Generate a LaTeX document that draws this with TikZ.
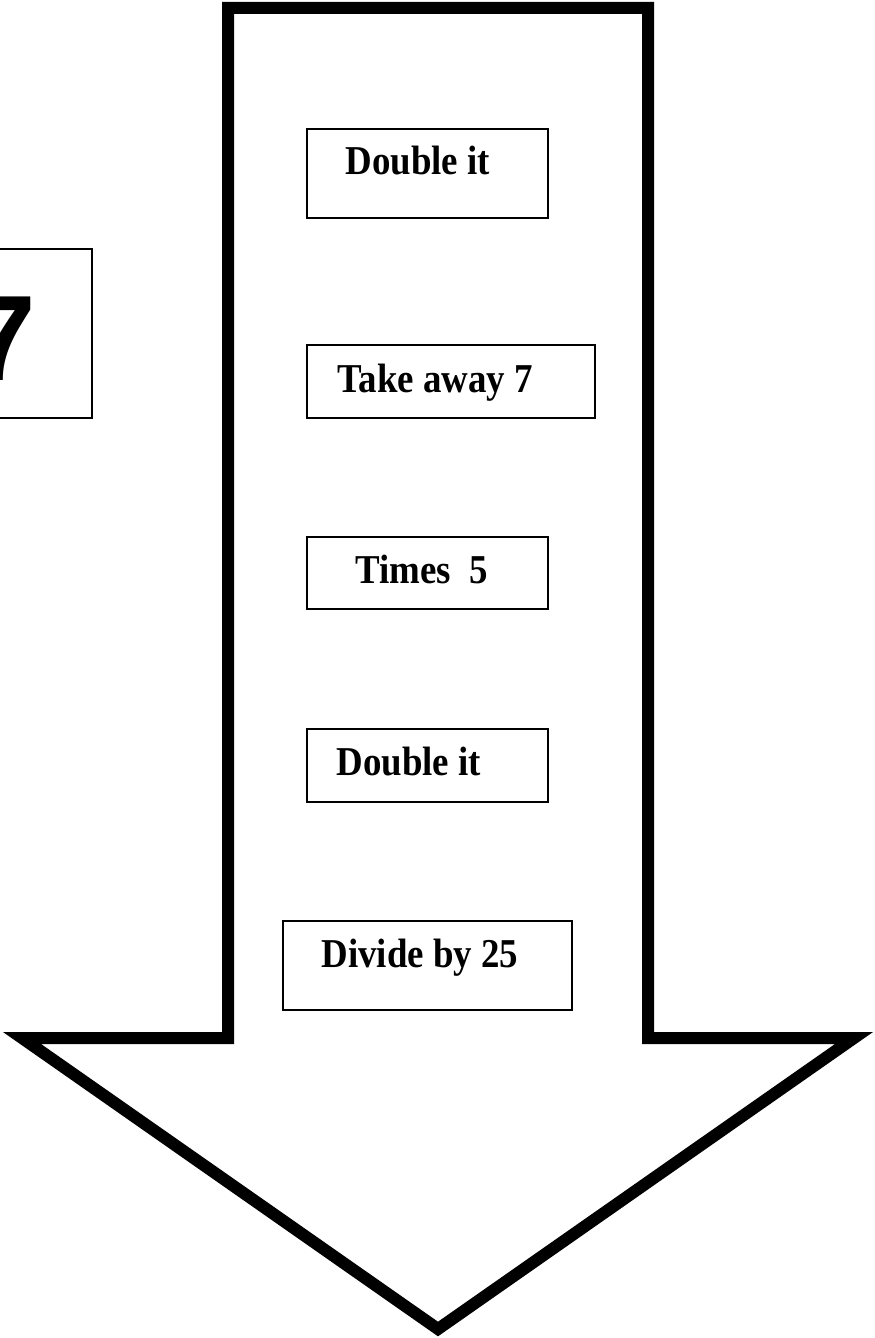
\documentclass[tikz,border=0pt]{standalone}
\usepackage{fontspec}
\setmainfont{Liberation Serif}
\newfontfamily\digitfont{Liberation Sans}
\tikzset{
  arrowline/.style={draw=black, line width=6pt, line join=miter, fill=white},
  stepbox/.style={draw=black, line width=0.8pt, fill=white, rectangle, inner sep=0pt, anchor=north west},
  steptext/.style={anchor=base west, inner sep=0pt, font=\fontsize{20.5pt}{24pt}\selectfont\bfseries},
}
\newcommand\cond[1]{\scalebox{0.9}[1]{#1}}
\begin{document}
\begin{tikzpicture}[x=0.5pt, y=-0.5pt]
\useasboundingbox (0,0) rectangle (874,1338);
% big arrow
\draw[arrowline] (228,1038) -- (228,8) -- (648,8) -- (648,1038) -- (854,1038) -- (438,1329) -- (22,1038) -- cycle;
% start box
\node[stepbox, minimum width=191*0.5pt, minimum height=169*0.5pt] (b0) at (-100,248) {};
\node[anchor=base west, inner sep=0pt, font=\digitfont\fontsize{60.75pt}{70pt}\selectfont\bfseries] (t0) at (-32,380) {7};
% step boxes
\node[stepbox, minimum width=241*0.5pt, minimum height=89*0.5pt] (b1) at (306,128) {};
\node[steptext] (t1) at (345,175) {\cond{Double it}};
\node[stepbox, minimum width=288*0.5pt, minimum height=73*0.5pt] (b2) at (306,344) {};
\node[steptext] (t2) at (337,392) {\cond{Take away 7}};
\node[stepbox, minimum width=241*0.5pt, minimum height=72*0.5pt] (b3) at (306,536) {};
\node[steptext] (t3) at (355,583) {\cond{Times\ \ 5}};
\node[stepbox, minimum width=241*0.5pt, minimum height=73*0.5pt] (b4) at (306,728) {};
\node[steptext] (t4) at (336,775) {\cond{Double it}};
\node[stepbox, minimum width=289*0.5pt, minimum height=89*0.5pt] (b5) at (282,920) {};
\node[steptext] (t5) at (321,967) {\cond{Divide by 25}};
\end{tikzpicture}
\end{document}
